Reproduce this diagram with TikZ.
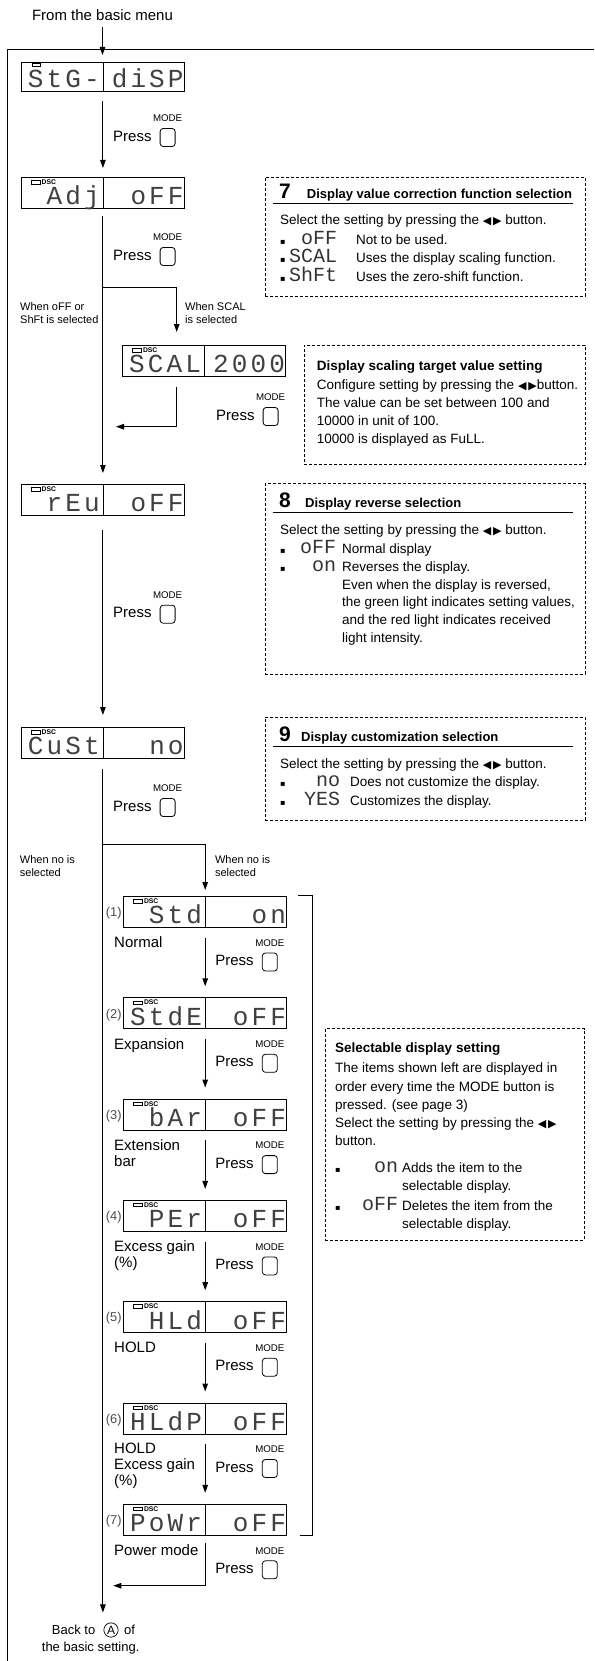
\documentclass[tikz,border=0pt]{standalone}
\usepackage{fontspec}
\setmainfont{Liberation Sans}
\newfontfamily\segfont[LetterSpace=12]{Liberation Mono}
\newfontfamily\seginfont{Liberation Mono}
\newfontfamily\symfont{DejaVu Sans}
\usetikzlibrary{arrows.meta, positioning}

\newcommand{\sqbul}{\makebox[8pt][l]{\symfont\fontsize{8}{8}\selectfont ▪}}
\newcommand{\lrbtn}{{\symfont\fontsize{11}{11}\selectfont ◀\,▶}}
\newcommand{\segin}[2]{\makebox[#1][r]{\color{black!80}\seginfont\fontsize{20}{18}\selectfont #2}}

\begin{document}
\begin{tikzpicture}[x=1pt, y=1pt,
  disp/.style={draw, line width=0.8pt, minimum width=163pt, minimum height=31pt, inner sep=0pt, anchor=north west},
  seg/.style={font=\segfont\fontsize{26}{26}\selectfont, text=black!75, inner sep=0pt, anchor=base east},
  dsc/.style={font=\bfseries\fontsize{6.8}{7}\selectfont, inner sep=0pt, anchor=base west},
  arrow/.style={-{Triangle[length=8pt, width=5.5pt]}, line width=1pt},
  press/.style={font=\fontsize{15}{18}\selectfont, inner sep=0pt, anchor=west},
  btn/.style={draw, rounded corners=3pt, line width=0.8pt, minimum width=15pt, minimum height=18pt, inner sep=0pt},
  mode/.style={font=\fontsize{9.7}{10}\selectfont, inner sep=0pt},
  small/.style={font=\fontsize{11}{13.3}\selectfont, align=left, inner sep=0pt, anchor=north west},
  lab/.style={font=\fontsize{15}{16}\selectfont, align=left, inner sep=0pt, anchor=north west},
  lnum/.style={font=\fontsize{12.8}{14}\selectfont, text=black!70, inner sep=0pt, anchor=east},
  note/.style={draw, dash pattern=on 3pt off 2pt, line width=0.7pt, inner sep=0pt, anchor=north west},
  num/.style={font=\bfseries\fontsize{21}{21}\selectfont, inner sep=0pt, anchor=base west},
  ttl/.style={font=\bfseries\fontsize{13}{16}\selectfont, inner sep=0pt, anchor=base west},
  body/.style={font=\fontsize{13.5}{18.3}\selectfont, align=left, inner sep=0pt, anchor=north west}]

\useasboundingbox (0,0) rectangle (594,-1661);

% outer frame
\draw[line width=1pt] (594,-50) -| (7.3,-1661);

\node[press, anchor=center] (from) at (102.5,-15) {From the basic menu};

% first display
\node[disp, minimum height=29pt] (stg) at (21,-62) {};
\draw[line width=0.8pt] (stg.north) -- (stg.south);
\node[seg] (stg-l) at ([xshift=-3pt, yshift=4pt]stg.south) {StG-};
\node[seg] (stg-r) at ([xshift=-1pt, yshift=4pt]stg.south east) {diSP};
\draw[line width=0.5pt] ([shift={(11.7pt,-1.3pt)}]stg.north west) rectangle ++(7.3pt,-2.7pt);

% displays with DSC lamp
\foreach \n/\x/\y/\l/\r in {adj/21/177/Adj/oFF, scal/122.3/345/SCAL/2000, reu/21/484/rEu/oFF, cust/21/727/CuSt/no,
    std/123.3/896/Std/on, stde/123.3/997.3/StdE/oFF, bar/123.3/1098.6/bAr/oFF, per/123.3/1199.9/PEr/oFF,
    hld/123.3/1301.2/HLd/oFF, hldp/123.3/1402.5/HLdP/oFF, powr/123.3/1503.8/PoWr/oFF}{
  \node[disp] (\n) at (\x,-\y) {};
  \draw[line width=0.8pt] (\n.north) -- (\n.south);
  \node[seg] (\n-l) at ([xshift=-3pt, yshift=4pt]\n.south) {\l};
  \node[seg] (\n-r) at ([xshift=-1pt, yshift=4pt]\n.south east) {\r};
  \draw[line width=0.5pt] ([shift={(10pt,-3.5pt)}]\n.north west) rectangle ++(9pt,-3.3pt);
  \node[dsc] (\n-d) at ([shift={(20.5pt,-7.5pt)}]\n.north west) {DSC};
}

% customize list
\foreach \i/\n/\txt in {1/std/Normal, 2/stde/Expansion, 3/bar/Extension\\bar, 4/per/Excess gain\\(\%),
    5/hld/HOLD, 6/hldp/HOLD\\Excess gain\\(\%), 7/powr/Power mode}{
  \node[lnum] (\n-i) at ([shift={(-1.5pt,-1.5pt)}]\n.west) {(\i)};
  \node[lab] (\n-t) at ([shift={(-9.3pt,-9pt)}]\n.south west) {\txt};
  \node[press] (\n-p) at ([shift={(10pt,-64.5pt)}]\n.north) {Press};
  \node[btn, right=8pt of \n-p, yshift=-1.5pt] (\n-b) {};
  \node[mode, above=6pt of \n-b] (\n-m) {MODE};
}
\foreach \a/\b in {std/stde, stde/bar, bar/per, per/hld, hld/hldp, hldp/powr}
  \draw[arrow, shorten <=10pt, shorten >=11pt] (\a) -- (\b);
\draw[line width=0.9pt] ([shift={(11pt,1pt)}]std.north east) -| ([xshift=25pt]powr.south east) -- ([xshift=13pt]powr.south east);

% main flow
\node[press] (p1) at (113,-136) {Press};
\node[btn, right=8pt of p1, yshift=-1.5pt] (b1) {};
\node[mode, above=6pt of b1] (m1) {MODE};
\node[press] (p2) at (113,-255) {Press};
\node[btn, right=8pt of p2, yshift=-1.5pt] (b2) {};
\node[mode, above=6pt of b2] (m2) {MODE};
\node[press] (p3) at (216,-415) {Press};
\node[btn, right=8pt of p3, yshift=-1.5pt] (b3) {};
\node[mode, above=6pt of b3] (m3) {MODE};
\node[press] (p4) at (113,-612.7) {Press};
\node[btn, right=8pt of p4, yshift=-1.5pt] (b4) {};
\node[mode, above=6pt of b4] (m4) {MODE};
\node[press] (p5) at (113,-806) {Press};
\node[btn, right=8pt of p5, yshift=-1.5pt] (b5) {};
\node[mode, above=6pt of b5] (m5) {MODE};

\node[small] (w1) at (20,-302) {When oFF or\\ShFt is selected};
\node[small] (w2) at (185,-302) {When SCAL\\is selected};
\node[small] (w3) at (19.7,-855) {When no is\\selected};
\node[small] (w4) at (214.8,-855) {When no is\\selected};

\node[font=\fontsize{13}{16.7}\selectfont, align=left, inner sep=0pt, anchor=north west] (back) at (41.7,-1625) {\hspace*{10pt}Back to\hspace{29pt}of\\the basic setting.};
\node[draw, circle, line width=0.7pt, inner sep=1pt, font=\fontsize{12}{12}\selectfont] (backA) at (111,-1630) {A};

\draw[arrow, shorten <=6.5pt, shorten >=7pt] (from.south) -- (from.south |- stg.north);
\draw[arrow, shorten <=9pt, shorten >=9pt] (stg) -- (adj);
\draw[arrow, shorten <=7.5pt, shorten >=11pt] (adj) -- (reu);
\coordinate (br1) at (102.5,-288);
\draw[arrow, shorten >=13pt] (br1) -| ([xshift=-27.5pt]scal.north);
\coordinate (jn1) at (116,-426.7);
\draw[arrow, shorten <=10.5pt] ([xshift=-27.5pt]scal.south) |- (jn1);
\draw[arrow, shorten <=14pt, shorten >=12pt] (reu) -- (cust);
\draw[arrow, shorten <=10pt, shorten >=10pt] (cust) -- (cust.south |- backA.north);
\coordinate (br2) at (102.5,-844);
\draw[arrow, shorten >=6pt] (br2) -| (std);
\coordinate (jn2) at (113.3,-1585.7);
\draw[arrow, shorten <=7.6pt] (powr) |- (jn2);

% notes
\node[note, minimum width=320pt, minimum height=119pt] (n7) at (265,-177) {};
\node[num] (n7-n) at (279,-199) {7};
\node[ttl] (n7-t) at (306.7,-198.5) {Display value correction function selection};
\draw[line width=0.8pt] ([shift={(7.7pt,-26.3pt)}]n7.north west) -- ([shift={(-12.3pt,-26.3pt)}]n7.north east);
\node[body] (n7-b) at (280,-211.9) {\strut Select the setting by pressing the \lrbtn\ button.\\
  \sqbul\segin{49pt}{oFF}\hspace{19pt}Not to be used.\\
  \sqbul\segin{49pt}{SCAL}\hspace{19pt}Uses the display scaling function.\\
  \sqbul\segin{49pt}{ShFt}\hspace{19pt}Uses the zero-shift function.};

\node[note, minimum width=281pt, minimum height=119pt] (nsc) at (304,-345) {};
\node[body, font=\fontsize{13.5}{18.1}\selectfont] (nsc-b) at (316.7,-358.1) {\strut\textbf{Display scaling target value setting}\\
  Configure setting by pressing the \lrbtn button.\\
  The value can be set between 100 and\\
  10000 in unit of 100.\\
  10000 is displayed as FuLL.};

\node[note, minimum width=320pt, minimum height=190.7pt] (n8) at (265,-483.3) {};
\node[num] (n8-n) at (279,-507.5) {8};
\node[ttl] (n8-t) at (305,-507.3) {Display reverse selection};
\draw[line width=0.8pt] ([shift={(7.7pt,-29pt)}]n8.north west) -- ([shift={(-12.3pt,-29pt)}]n8.north east);
\node[body, font=\fontsize{13.5}{17.8}\selectfont] (n8-b) at (280,-521.4) {\strut Select the setting by pressing the \lrbtn\ button.\\
  \sqbul\segin{48pt}{oFF}\hspace{6pt}Normal display\\
  \sqbul\segin{48pt}{on}\hspace{6pt}Reverses the display.\\
  \hspace*{62pt}Even when the display is reversed,\\
  \hspace*{62pt}the green light indicates setting values,\\
  \hspace*{62pt}and the red light indicates received\\
  \hspace*{62pt}light intensity.};

\node[note, minimum width=320pt, minimum height=103pt] (n9) at (265,-717) {};
\node[num] (n9-n) at (279,-741) {9};
\node[ttl] (n9-t) at (301,-741) {Display customization selection};
\draw[line width=0.8pt] ([shift={(7.7pt,-29pt)}]n9.north west) -- ([shift={(-12.3pt,-29pt)}]n9.north east);
\node[body] (n9-b) at (280,-755.4) {\strut Select the setting by pressing the \lrbtn\ button.\\
  \sqbul\segin{52pt}{no}\hspace{10pt}Does not customize the display.\\
  \sqbul\segin{52pt}{YES}\hspace{10pt}Customizes the display.};

\node[note, minimum width=259pt, minimum height=211.7pt] (nsel) at (325,-1028.3) {};
\node[body] (nsel-b) at (335,-1039.7) {\strut\textbf{Selectable display setting}\\[1.7pt]
  The items shown left are displayed in\\
  order every time the MODE button is\\
  pressed. (see page 3)\\
  Select the setting by pressing the \lrbtn\\
  button.\\[8pt]
  \sqbul\segin{55pt}{on}\hspace{4pt}Adds the item to the\\
  \hspace*{67pt}selectable display.\\[1.7pt]
  \sqbul\segin{55pt}{oFF}\hspace{4pt}Deletes the item from the\\
  \hspace*{67pt}selectable display.};

\end{tikzpicture}
\end{document}
